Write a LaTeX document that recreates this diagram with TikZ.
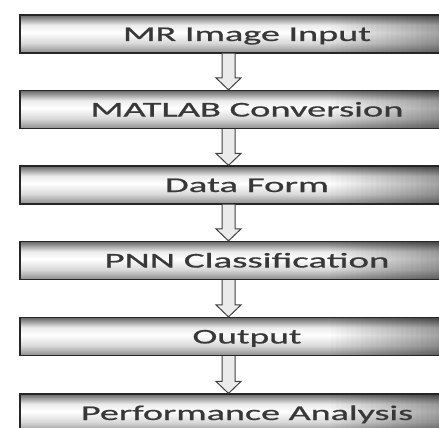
\documentclass[tikz,border=0pt]{standalone}
\usepackage{fontspec}
\setmainfont{Carlito}
\newfontfamily\boxfont[FakeBold=0.6]{Carlito}
\usetikzlibrary{calc}
\pgfdeclareverticalshading{boxshade}{100bp}{color(0bp)=(black!45); color(25bp)=(black!45); color(38bp)=(black!15); color(52bp)=(white); color(62bp)=(black!8); color(75bp)=(black!60); color(100bp)=(black!60)}
\newcommand{\stretchtext}[2]{\resizebox{#1}{\height}{#2}}
\begin{document}
\begin{tikzpicture}[x=1pt,y=-1pt,
  stepbox/.style={draw=black!85, line width=1.2pt, shade, shading=boxshade,
    minimum width=421pt, minimum height=38pt, inner sep=0pt,
    text height=14pt, text depth=0pt,
    font=\boxfont\fontsize{21}{21}\selectfont, text=black!78,
    path picture={\foreach \i in {1,...,22}{
      \fill[black, fill opacity=0.016*\i]
      ($(path picture bounding box.north east)+(-115pt+5pt*\i,0pt)$) rectangle ($(path picture bounding box.south east)+(-110pt+5pt*\i,0pt)$);}}},
  flowarrow/.style={draw=black!75, line width=1pt, fill=black!8, line join=miter}]
\useasboundingbox[fill=white] (0,0) rectangle (439,428);
\node[stepbox] (b1) at (230.5,34)  {\hspace*{33pt}\stretchtext{248pt}{MR Image Input}};
\node[stepbox] (b2) at (230.5,109.5) {\hspace*{33pt}\stretchtext{313pt}{MATLAB Conversion}};
\node[stepbox] (b3) at (230.5,185) {\hspace*{33pt}\stretchtext{164pt}{Data Form}};
\node[stepbox] (b4) at (230.5,260.5) {\hspace*{33pt}\stretchtext{285pt}{PNN Classification}};
\node[stepbox] (b5) at (230.5,336.5) {\hspace*{33pt}\stretchtext{109pt}{Output}};
\node[stepbox] (b6) at (230.5,413) {\hspace*{33pt}\stretchtext{332pt}{Performance Analysis}};
\foreach \a/\b in {b1/b2,b2/b3,b3/b4,b4/b5,b5/b6}{
  \draw[flowarrow] ($(\a.south)+(-8.5,0)$) -- ($(\b.north)+(-8.5,-12)$) -- ($(\b.north)+(-14.5,-12)$)
    -- ($(\b.north)+(-2,0)$) -- ($(\b.north)+(10.5,-12)$) -- ($(\b.north)+(4.5,-12)$) -- ($(\a.south)+(4.5,0)$);
}
\end{tikzpicture}
\end{document}
